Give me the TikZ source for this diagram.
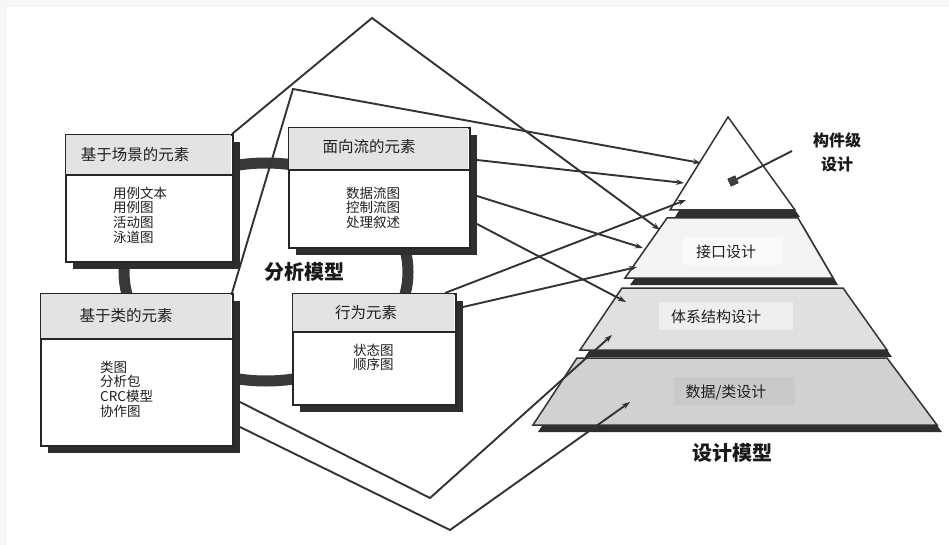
\documentclass[tikz,border=0pt]{standalone}
\usepackage{fontspec}
\setmainfont{Noto Sans CJK SC}
\usetikzlibrary{arrows.meta,calc}
\tikzset{
 cjk/.style={inner sep=0pt, text=black!88},
 ttl/.style={cjk, text height=13.6pt, text depth=1.9pt, font=\fontsize{15.5pt}{18pt}\selectfont},
 itm/.style={cjk, anchor=west, text height=11.9pt, text depth=1.6pt, font=\fontsize{13.5pt}{16pt}\selectfont},
 lay/.style={cjk, text height=13.2pt, text depth=1.8pt, font=\fontsize{15pt}{18pt}\selectfont},
 big/.style={cjk, text height=17.6pt, text depth=2.4pt, font=\fontsize{20pt}{24pt}\selectfont\bfseries, text=black!90},
 mid/.style={cjk, text height=14.1pt, text depth=1.9pt, font=\fontsize{16pt}{19pt}\selectfont\bfseries, text=black!90},
 boxn/.style={draw=black!85, line width=1.9pt, fill=white, anchor=north west, inner sep=0pt},
 boxline/.style={draw=black!85, line width=1.9pt},
 shad/.style={fill=black!82},
 head/.style={fill=gray!22},
 ring/.style={draw=black!78, line width=11pt},
 link/.style={draw=black!80, line width=1.9pt, line join=miter},
 arr/.style={link, -{Stealth[length=8pt,width=5.5pt]}},
 layer/.style={draw=black!80, line width=1.5pt},
}
\newcommand\abox[6]{%
 \fill[shad] (#2+8,#3+8) rectangle (#2+#4+8,#3+#5+8);
 \node[boxn, minimum width=#4pt, minimum height=#5pt] (#1) at (#2,#3) {};
 \fill[head] (#2+.95,#3+.95) rectangle (#2+#4-.95,#3+#6);
 \draw[boxline] (#2,#3+#6) -- (#2+#4,#3+#6);
}
\begin{document}
\begin{tikzpicture}[x=1pt,y=-1pt]
\useasboundingbox (0,0) rectangle (949,545);
\fill[white] (0,0) rectangle (949,545);
\fill[gray!7] (0,0) rectangle (949,7);
\fill[gray!7] (0,0) rectangle (7,545);

% ring of the analysis model
\draw[ring] (266,272) ellipse [x radius=142pt, y radius=109pt];

% pyramid (design model)
\fill[shad, shift={(5,7)}] (728,117) -- (795,210) -- (670,210) -- cycle;
\draw[layer, fill=white] (728,117) -- (795,210) -- (670,210) -- cycle;
\fill[shad, shift={(5,7)}] (667,218) -- (798,218) -- (833,278) -- (625,278) -- cycle;
\draw[layer, fill=gray!9] (667,218) -- (798,218) -- (833,278) -- (625,278) -- cycle;
\fill[shad, shift={(5,7)}] (622,288) -- (843,288) -- (887,350) -- (580,350) -- cycle;
\draw[layer, fill=gray!24] (622,288) -- (843,288) -- (887,350) -- (580,350) -- cycle;
\fill[shad, shift={(5,7)}] (577,358) -- (887,358) -- (937,425) -- (533,425) -- cycle;
\draw[layer, fill=gray!36] (577,358) -- (887,358) -- (937,425) -- (533,425) -- cycle;

\fill[gray!5] (683,237) rectangle (782,265);
\node[lay] (l2) at (726,252) {接口设计};
\fill[gray!13] (659,302) rectangle (793,330);
\node[lay] (l3) at (716,317) {体系结构设计};
\fill[gray!42] (674,377) rectangle (795,405);
\node[lay] (l4) at (726,392) {数据/类设计};

\node[draw=black!85, fill=black!75, minimum size=8pt, inner sep=0pt, rotate=25] (sq) at (733,181) {};
\coordinate (cl) at (792,151);
\draw[link] (sq) -- (cl);
\node[mid] (c1) at (837,140) {构件级};
\node[mid] (c2) at (837,164) {设计};
\node[big] (dm) at (732,453) {设计模型};

% box corner coordinates (lines run beneath the boxes)
\coordinate (b1ne) at (232,134);
\coordinate (b3ne) at (232,293);
\coordinate (b2e) at (469,127);
\coordinate (b4ne) at (455,293);

% connectors
\coordinate (pA) at (372,18);
\coordinate (eA) at (660,230);
\draw[arr] (b1ne) -- (pA) -- (eA);
\coordinate (pB) at (293,89);
\coordinate (eB) at (701,163);
\draw[arr] (b3ne) -- (pB) -- (eB);

\coordinate (e1) at (684,183);
\coordinate (e2) at (643,248);
\coordinate (e3) at (626,302);
\draw[arr] ($(b2e)+(8,33)$) -- (e1);
\draw[arr] ($(b2e)+(8,69)$) -- (e2);
\draw[arr] ($(b2e)+(8,97)$) -- (e3);

\coordinate (e4) at (686,200);
\coordinate (e5) at (637,267);
\draw[arr] ($(b4ne)+(-10,0)$) -- (e4);
\draw[arr] ($(b4ne)+(8,14)$) -- (e5);

\coordinate (v1) at (430,498);
\coordinate (e6) at (612,335);
\coordinate (v2) at (450,530);
\coordinate (e7) at (630,402);
\draw[arr] ($(b3ne)+(8,109)$) -- (v1) -- (e6);
\draw[arr] ($(b3ne)+(8,134)$) -- (v2) -- (e7);

% analysis element boxes
\abox{b1}{65}{134}{167}{127}{41}
\abox{b2}{288}{127}{181}{120}{43}
\abox{b3}{40}{293}{192}{152}{46}
\abox{b4}{292}{293}{163}{111}{39}

\node[ttl] (t1) at (135,155) {基于场景的元素};
\node[ttl] (t2) at (369,147) {面向流的元素};
\node[ttl] (t3) at (126,316) {基于类的元素};
\node[ttl] (t4) at (366,313) {行为元素};

\foreach \t [count=\i] in {用例文本,用例图,活动图,泳道图}
  \node[itm] (s\i) at (113,{178.3+14.7*\i}) {\t};
\foreach \t [count=\i] in {数据流图,控制流图,处理叙述}
  \node[itm] (f\i) at (346,{178.3+14.7*\i}) {\t};
\foreach \t [count=\i] in {类图,分析包,CRC模型,协作图}
  \node[itm] (c\i) at (100,{352.3+14.7*\i}) {\t};
\foreach \t [count=\i] in {状态图,顺序图}
  \node[itm] (h\i) at (353,{335.5+14.5*\i}) {\t};

\node[big] (am) at (304,272) {分析模型};
\end{tikzpicture}
\end{document}
